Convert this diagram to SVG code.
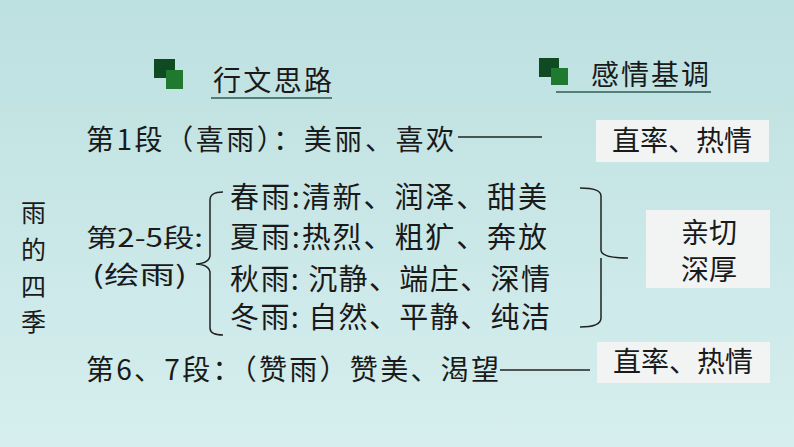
<svg xmlns="http://www.w3.org/2000/svg" width="794" height="447" viewBox="0 0 794 447">
<style>
text{font-family:"Noto Sans CJK SC","Liberation Sans",sans-serif;fill:#1a1a1a;}
.t{font-size:28px;}
.s{font-size:25px;}
.i{font-size:29px;}
.h{font-size:28px;}
.box{fill:#f2f4f4;}
.ln{stroke:#222;stroke-width:1.5;fill:none;}
.ul{stroke:#2e5e55;stroke-width:1.5;}
.d{fill:#0f4a22;}.l{fill:#1f7a30;}
</style>
<defs><linearGradient id="bg" x1="0" y1="0" x2="0" y2="1"><stop offset="0" stop-color="#bde0e0"/><stop offset="1" stop-color="#d6eeee"/></linearGradient></defs>
<rect width="794" height="447" fill="url(#bg)"/>
<g id="head1"><rect class="d" x="154" y="59" width="21" height="19"/><rect class="l" x="166" y="70" width="17" height="19"/><text class="h" x="213" y="91" textLength="119">行文思路</text><line class="ul" x1="211" y1="98" x2="332" y2="98"/></g>
<g id="head2"><rect class="d" x="539" y="58" width="20" height="19"/><rect class="l" x="551" y="68" width="17" height="17"/><text class="h" x="591" y="85" textLength="118">感情基调</text><line class="ul" x1="556" y1="92" x2="711" y2="92"/></g>
<g id="title"><text class="s" x="21" y="222">雨</text><text class="s" x="21" y="259">的</text><text class="s" x="21" y="296">四</text><text class="s" x="21" y="331">季</text></g>
<g id="p1"><text class="t" x="86" y="150" textLength="368">第1段（喜雨）：美丽、喜欢</text></g>
<g id="box1"><rect class="box" x="596" y="120" width="173" height="42"/><text class="h" x="682" y="151" text-anchor="middle">直率、热情</text></g>
<g id="p2"><text class="s" x="86" y="247" textLength="117" lengthAdjust="spacingAndGlyphs">第2-5段:</text><text class="s" x="92" y="284" textLength="95" lengthAdjust="spacingAndGlyphs">(绘雨)</text></g>
<g id="items"><text class="i" x="230" y="208" textLength="317">春雨:清新、润泽、甜美</text><text class="i" x="230" y="248" textLength="317">夏雨:热烈、粗犷、奔放</text><text class="i" x="230" y="290" textLength="320">秋雨: 沉静、端庄、深情</text><text class="i" x="230" y="328" textLength="320">冬雨: 自然、平静、纯洁</text></g>
<g id="box2"><rect class="box" x="646" y="210" width="124" height="78"/><text class="t" x="709" y="243" text-anchor="middle">亲切</text><text class="t" x="709" y="280" text-anchor="middle">深厚</text></g>
<g id="p3"><text class="t" x="86" y="380" textLength="413">第6、7段：（赞雨）赞美、渴望</text></g>
<g id="box3"><rect class="box" x="597" y="342" width="173" height="41"/><text class="h" x="683" y="372" text-anchor="middle">直率、热情</text></g>
<g id="connectors">
<line class="ln" x1="458" y1="137" x2="542" y2="137"/>
<path class="ln" d="M223,192 Q210,192 210,200 L210,255 Q210,263 196,264 Q210,265 210,273 L210,328 Q210,335 223,335"/>
<path class="ln" d="M580,188 Q601,188 601,196 L601,250 Q601,258 628,258 M601,258 Q601,266 601,272 L601,318 Q601,327 580,327"/>
<line class="ln" x1="500" y1="370" x2="590" y2="370"/>
</g>
</svg>
